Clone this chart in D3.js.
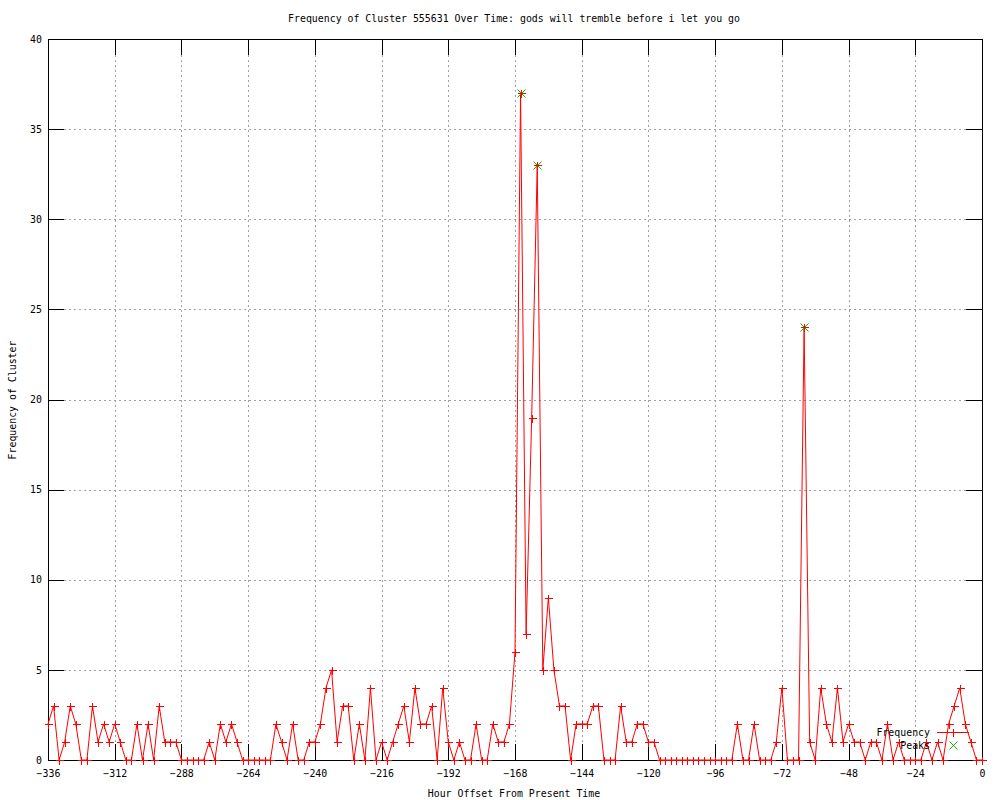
<!DOCTYPE html>
<html>
<head>
<meta charset="utf-8">
<script src="https://cdn.jsdelivr.net/npm/d3@7"></script>
<style>
  html, body { margin: 0; padding: 0; background: #fff; }
  svg { display: block; }
  text { font-family: "DejaVu Sans Mono", "Liberation Mono", monospace; font-size: 9.9px; fill: #000; }
</style>
</head>
<body>
<svg id="chart" width="1000" height="800"></svg>
<script>
// ---- data ----
const titleText = "Frequency of Cluster 555631 Over Time: gods will tremble before i let you go";
const xLabel = "Hour Offset From Present Time";
const yLabel = "Frequency of Cluster";
const hourStart = -336, hourStep = 2;
const frequency = [
  2,3,0,1,3,2,0,0,3,1, 2,1,2,1,0,0,2,0,2,0,
  3,1,1,1,0,0,0,0,0,1, 0,2,1,2,1,0,0,0,0,0,
  0,2,1,0,2,0,0,1,1,2, 4,5,1,3,3,0,2,0,4,0,
  1,0,1,2,3,1,4,2,2,3, 0,4,1,0,1,0,0,2,0,0,
  2,1,1,2,6,37,7,19,33,5, 9,5,3,3,0,2,2,2,3,3,
  0,0,0,3,1,1,2,2,1,1, 0,0,0,0,0,0,0,0,0,0,
  0,0,0,0,2,0,0,2,0,0, 0,1,4,0,0,0,24,1,0,4,
  2,1,4,1,2,1,1,0,1,1, 0,2,0,1,0,0,0,0,1,0,
  1,0,2,3,4,2,1,0,0
];
const hours = frequency.map((_, i) => hourStart + hourStep * i);
const peakHours = [-166, -160, -64];
const peakValues = [37, 33, 24];
const xTicks = [-336,-312,-288,-264,-240,-216,-192,-168,-144,-120,-96,-72,-48,-24,0];
const yTicks = [0,5,10,15,20,25,30,35,40];
const seriesNames = ["Frequency", "Peaks"];

// ---- layout ----
const L = 48, R = 982, T = 39, B = 760;
const svg = d3.select("#chart");
const x = d3.scaleLinear().domain([-336, 0]).range([L, R]);
const y = d3.scaleLinear().domain([0, 40]).range([B, T]);
const red = "#ff0000", green = "#00c000";

// grid
const grid = svg.append("g").attr("stroke", "#a0a0a0").attr("stroke-dasharray", "2,3")
  .attr("shape-rendering", "crispEdges");
grid.selectAll(".gx").data(xTicks.filter(d => d !== -336 && d !== 0)).enter().append("line")
  .attr("x1", d => Math.round(x(d)) + 0.5).attr("x2", d => Math.round(x(d)) + 0.5)
  .attr("y1", T + 16).attr("y2", B - 16);
grid.selectAll(".gy").data(yTicks.filter(d => d !== 0 && d !== 40)).enter().append("line")
  .attr("y1", d => Math.round(y(d)) + 0.5).attr("y2", d => Math.round(y(d)) + 0.5)
  .attr("x1", L + 16).attr("x2", R - 16);

// axes using d3 axis (inner ticks, mirrored)
function styleAxis(g) {
  g.select(".domain").remove();
  g.selectAll(".tick line").attr("stroke", "#000").attr("shape-rendering", "crispEdges");
}
svg.append("g").attr("transform", `translate(0,${B})`)
  .call(d3.axisBottom(x).tickValues(xTicks).tickSize(-16).tickPadding(8).tickFormat(d3.format("d")))
  .call(styleAxis)
  .call(g => g.selectAll(".tick text").attr("dy", "0.9em"));
svg.append("g").attr("transform", `translate(0,${T})`)
  .call(d3.axisTop(x).tickValues(xTicks).tickSize(-16).tickFormat(""))
  .call(styleAxis);
svg.append("g").attr("transform", `translate(${L},0)`)
  .call(d3.axisLeft(y).tickValues(yTicks).tickSize(-16).tickPadding(6).tickFormat(d3.format("d")))
  .call(styleAxis);
svg.append("g").attr("transform", `translate(${R},0)`)
  .call(d3.axisRight(y).tickValues(yTicks).tickSize(-16).tickFormat(""))
  .call(styleAxis);
svg.selectAll("g").attr("font-family", null).attr("font-size", null);
svg.selectAll(".tick text").style("fill", "#000");

// border
svg.append("rect").attr("x", L + 0.5).attr("y", T + 0.5).attr("width", R - L).attr("height", B - T)
  .attr("fill", "none").attr("stroke", "#000").attr("shape-rendering", "crispEdges");

// frequency line
const line = d3.line().x((d, i) => x(hours[i])).y(d => y(d));
svg.append("path").datum(frequency).attr("d", line)
  .attr("fill", "none").attr("stroke", red).attr("stroke-width", 1);

const ms = 4;
const plus = (cx, cy) => `M${cx - ms},${cy}H${cx + ms}M${cx},${cy - ms}V${cy + ms}`;
const cross = (cx, cy) => `M${cx - ms},${cy - ms}L${cx + ms},${cy + ms}M${cx - ms},${cy + ms}L${cx + ms},${cy - ms}`;

// peaks (drawn beneath the frequency markers)
svg.append("g").selectAll("path").data(peakValues).enter().append("path")
  .attr("d", (d, i) => cross(Math.round(x(peakHours[i])) + 0.5, Math.round(y(d)) + 0.5))
  .attr("stroke", green).attr("stroke-width", 1).attr("fill", "none");

// + markers
svg.append("g").selectAll("path").data(frequency).enter().append("path")
  .attr("d", (d, i) => plus(Math.round(x(hours[i])) + 0.5, Math.round(y(d)) + 0.5))
  .attr("stroke", red).attr("stroke-width", 1).attr("fill", "none").attr("shape-rendering", "crispEdges");

// legend
const lg = svg.append("g");
lg.append("text").attr("x", 930).attr("y", 736).attr("text-anchor", "end").text(seriesNames[0]);
lg.append("line").attr("x1", 937).attr("x2", 969).attr("y1", 732.5).attr("y2", 732.5)
  .attr("stroke", red).attr("shape-rendering", "crispEdges");
lg.append("path").attr("d", plus(953.5, 732.5)).attr("stroke", red).attr("shape-rendering", "crispEdges");
lg.append("text").attr("x", 930).attr("y", 749).attr("text-anchor", "end").text(seriesNames[1]);
lg.append("path").attr("d", cross(953.5, 745.5)).attr("stroke", green).attr("fill", "none");

// titles
svg.append("text").attr("x", 514).attr("y", 22).attr("text-anchor", "middle").text(titleText);
svg.append("text").attr("x", 514).attr("y", 797).attr("text-anchor", "middle").text(xLabel);
svg.append("text").attr("transform", "translate(16,400) rotate(-90)").attr("text-anchor", "middle").text(yLabel);
</script>
</body>
</html>
